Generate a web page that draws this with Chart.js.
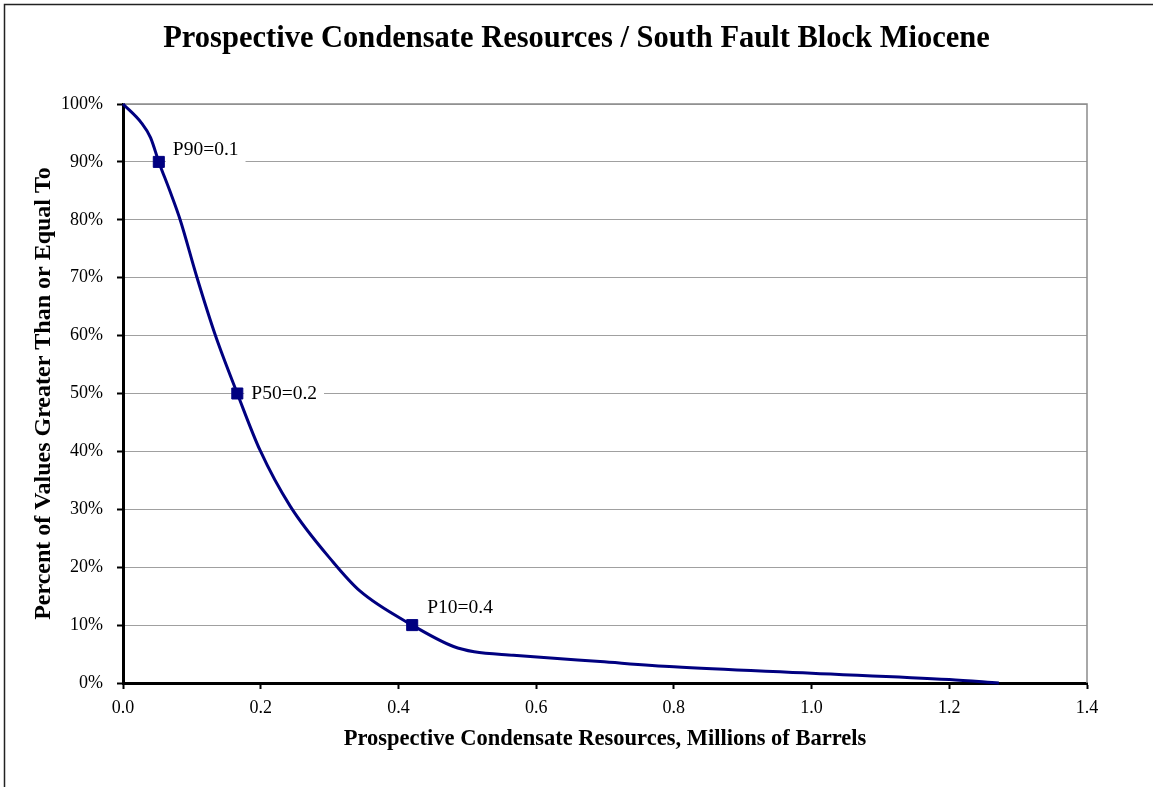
<!DOCTYPE html>
<html>
<head>
<meta charset="utf-8">
<title>Prospective Condensate Resources</title>
<script src="https://cdn.jsdelivr.net/npm/chart.js@4/dist/chart.umd.min.js"></script>
<style>
    body { margin: 0; background: #fff; }
    canvas { display: block; }
</style>
</head>
<body>
<canvas id="chart" width="1153" height="787"></canvas>
<script>
// curve (MMbbl vs % of values >= that)
const resourceValues = [0, 0.027, 0.040, 0.052, 0.068, 0.083, 0.107, 0.134, 0.166, 0.199, 0.243,
    0.305, 0.344, 0.420, 0.480, 0.510, 0.567, 0.693, 0.8, 1.0, 1.2, 1.272];
const percentValues = [100, 96.7, 94.2, 90, 85, 80, 70.2, 60.1, 50, 40.2, 30.5,
    20.9, 15.9, 10, 6.3, 5.4, 4.8, 3.7, 2.8, 1.7, 0.6, 0];

// P90 / P50 / P10 markers
const markerValues = [0.052, 0.166, 0.420];
const markerPercents = [90, 50, 10];
const markerLabels = ['P90=0.1', 'P50=0.2', 'P10=0.4'];

const xTicks = [0, 0.2, 0.4, 0.6, 0.8, 1.0, 1.2, 1.4];
const xTickLabels = ['0.0', '0.2', '0.4', '0.6', '0.8', '1.0', '1.2', '1.4'];
const yTicks = [0, 10, 20, 30, 40, 50, 60, 70, 80, 90, 100];
const yTickLabels = ['0%', '10%', '20%', '30%', '40%', '50%', '60%', '70%', '80%', '90%', '100%'];

const chartTitle = 'Prospective Condensate Resources / South Fault Block Miocene';
const xTitle = 'Prospective Condensate Resources, Millions of Barrels';
const yTitle = 'Percent of Values Greater Than or Equal To';

const serif = "'Liberation Serif', 'Times New Roman', serif";
Chart.defaults.font.family = serif;
Chart.defaults.color = '#000';

// fondo blanco, marco exterior y titulo
const frame = {
    id: 'frame',
    beforeDraw(chart) {
        const ctx = chart.ctx;
        ctx.save();
        ctx.fillStyle = '#fff';
        ctx.fillRect(0, 0, chart.width, chart.height);
        ctx.strokeStyle = '#222';
        ctx.lineWidth = 1.5;
        ctx.strokeRect(4.5, 4.5, chart.width + 20, chart.height + 20);
        ctx.font = 'bold 30.5px ' + serif;
        ctx.fillStyle = '#000';
        ctx.textAlign = 'center';
        ctx.textBaseline = 'alphabetic';
        ctx.fillText(chartTitle, chart.width / 2, 47);
        ctx.restore();
    },
    beforeDatasetsDraw(chart) {
        const ctx = chart.ctx;
        const a = chart.chartArea;
        ctx.save();
        // borde gris del area de trazado
        ctx.strokeStyle = '#8c8c8c';
        ctx.lineWidth = 1.5;
        ctx.beginPath();
        ctx.moveTo(a.left, a.top);
        ctx.lineTo(a.right, a.top);
        ctx.lineTo(a.right, a.bottom);
        ctx.stroke();

        // etiquetas P90/P50/P10 con fondo blanco
        const offsets = [[14, -12], [14, 0], [15, -17]];
        ctx.font = '19.5px ' + serif;
        ctx.textBaseline = 'middle';
        ctx.textAlign = 'left';
        markerLabels.forEach((txt, i) => {
            const px = chart.scales.x.getPixelForValue(markerValues[i]) + offsets[i][0];
            const py = chart.scales.y.getPixelForValue(markerPercents[i]) + offsets[i][1];
            const w = ctx.measureText(txt).width;
            ctx.fillStyle = '#fff';
            ctx.fillRect(px - 7, py - 13, w + 14, 26);
            ctx.fillStyle = '#000';
            ctx.fillText(txt, px, py);
        });
        ctx.restore();
    }
};

const ctx = document.getElementById('chart').getContext('2d');
new Chart(ctx, {
    type: 'scatter',
    data: {
        datasets: [{
            label: 'Curve',
            data: resourceValues.map((v, i) => ({ x: v, y: percentValues[i] })),
            showLine: true,
            borderColor: '#000080',
            borderWidth: 3,
            pointRadius: 0,
            cubicInterpolationMode: 'monotone',
            clip: 4
        }, {
            label: 'Markers',
            data: markerValues.map((v, i) => ({ x: v, y: markerPercents[i] })),
            showLine: false,
            pointStyle: 'rect',
            pointRadius: 7.8,
            backgroundColor: '#000080',
            borderColor: '#000080',
            borderWidth: 1
        }]
    },
    options: {
        responsive: false,
        animation: false,
        layout: { padding: { top: 104, right: 66, left: 0, bottom: 0 } },
        plugins: {
            legend: { display: false },
            tooltip: { enabled: false }
        },
        scales: {
            x: {
                type: 'linear',
                min: 0,
                max: 1.4,
                afterBuildTicks: scale => { scale.ticks = xTicks.map(v => ({ value: v })); },
                afterFit: scale => { scale.height = 104; },
                ticks: {
                    callback: (v, i) => xTickLabels[i],
                    font: { size: 18 },
                    padding: 8,
                    maxRotation: 0
                },
                grid: {
                    drawOnChartArea: false,
                    drawTicks: true,
                    tickLength: 6,
                    tickColor: '#000',
                    tickWidth: 2
                },
                border: { display: true, color: '#000', width: 3 },
                title: {
                    display: true,
                    text: xTitle,
                    font: { size: 22.5, weight: 'bold' },
                    padding: { top: 0, bottom: 34.5 }
                }
            },
            y: {
                type: 'linear',
                min: 0,
                max: 100,
                afterBuildTicks: scale => { scale.ticks = yTicks.map(v => ({ value: v })); },
                afterFit: scale => { scale.width = 123; },
                ticks: {
                    callback: (v, i) => yTickLabels[i],
                    font: { size: 18 },
                    padding: 14
                },
                grid: {
                    color: '#a0a0a0',
                    lineWidth: 1,
                    borderDash: [1, 1],
                    drawTicks: true,
                    tickLength: 6,
                    tickColor: '#000',
                    tickWidth: 2,
                    tickBorderDash: []
                },
                border: { display: true, color: '#000', width: 3 },
                title: {
                    display: true,
                    text: yTitle,
                    font: { size: 24, weight: 'bold' },
                    padding: { top: 29.5, bottom: 0 }
                }
            }
        }
    },
    plugins: [frame]
});
</script>
</body>
</html>
